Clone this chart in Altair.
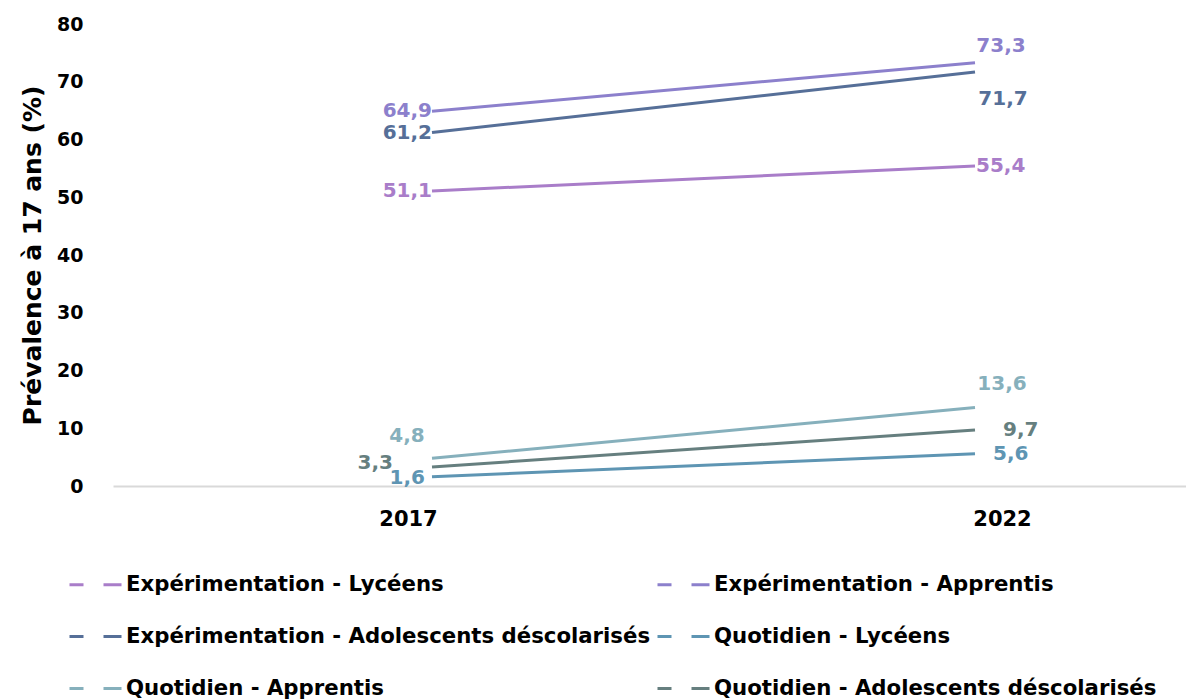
import altair as alt
import pandas as pd

years = [2017, 2022]
series = [
    "Expérimentation - Lycéens",
    "Expérimentation - Apprentis",
    "Expérimentation - Adolescents déscolarisés",
    "Quotidien - Lycéens",
    "Quotidien - Apprentis",
    "Quotidien - Adolescents déscolarisés",
]
values_2017 = [51.1, 64.9, 61.2, 1.6, 4.8, 3.3]
values_2022 = [55.4, 73.3, 71.7, 5.6, 13.6, 9.7]
colors = ["#A97DC9", "#8C80CC", "#566F98", "#5E95B3", "#86B0BC", "#667F7F"]

rows = []
for s, a, b in zip(series, values_2017, values_2022):
    rows.append({"serie": s, "annee": years[0], "valeur": a, "label": f"{a:.1f}".replace(".", ",")})
    rows.append({"serie": s, "annee": years[1], "valeur": b, "label": f"{b:.1f}".replace(".", ",")})
df = pd.DataFrame(rows)

FONT = "DejaVu Sans"
XDOM = [2014.0626, 2023.9429]

x_enc = alt.X(
    "annee:Q",
    scale=alt.Scale(domain=XDOM, nice=False, zero=False),
    axis=alt.Axis(
        values=years, format="d", title=None, grid=False, ticks=False,
        domainColor="#D9D9D9", domainWidth=2,
        labelFont=FONT, labelFontSize=21, labelFontWeight="bold", labelColor="#000000",
        labelPadding=22,
        labelOffset={"condition": {"test": "datum.value == 2017", "value": -24}, "value": 27},
    ),
)
y_enc = alt.Y(
    "valeur:Q",
    scale=alt.Scale(domain=[0, 80], nice=False),
    axis=alt.Axis(
        values=list(range(0, 81, 10)), title="Prévalence  à 17 ans (%)", grid=False, ticks=False,
        domain=False, labelFont=FONT, labelFontSize=19, labelFontWeight="bold", labelColor="#000000",
        labelPadding=30, titleFont=FONT, titleFontSize=25, titleFontWeight="bold", titleColor="#000000",
        titlePadding=11,
    ),
)
color_scale = alt.Scale(domain=series, range=colors)

lines = alt.Chart(df).mark_line(strokeWidth=3).encode(
    x=x_enc, y=y_enc,
    color=alt.Color(
        "serie:N", scale=color_scale, sort=series,
        legend=alt.Legend(
            title=None, orient="none", legendX=-45, legendY=533, columns=2, direction="horizontal",
            symbolType="stroke", symbolSize=2704, symbolStrokeWidth=3, symbolDash=[14, 20, 18, 100],
            labelFont=FONT, labelFontSize=21.25, labelFontWeight="bold", labelColor="#000000",
            labelOffset=3, rowPadding=14, columnPadding=0, labelLimit=700,
        ),
    ),
    detail="serie:N",
)

# label placement (style): (serie index, year) -> (align, dx, dy)
placement = {
    (0, 2017): ("right", 0, 0), (0, 2022): ("left", 1, 0),
    (1, 2017): ("right", 0, 0), (1, 2022): ("center", 26, -17),
    (2, 2017): ("right", 0, 0), (2, 2022): ("center", 28, 27),
    (3, 2017): ("right", -7, 1), (3, 2022): ("left", 18, 0),
    (4, 2017): ("center", -25, -22), (4, 2022): ("center", 27, -23),
    (5, 2017): ("right", -39, -4), (5, 2022): ("left", 28, 0),
}

layers = [lines]
for (i, yr), (al, dx, dy) in placement.items():
    t = alt.Chart(df).transform_filter(
        (alt.datum.serie == series[i]) & (alt.datum.annee == yr)
    ).mark_text(
        align=al, baseline="middle", dx=dx, dy=dy, font=FONT, fontSize=20, fontWeight="bold"
    ).encode(
        x=alt.X("annee:Q", scale=alt.Scale(domain=XDOM, nice=False, zero=False)),
        y=alt.Y("valeur:Q", scale=alt.Scale(domain=[0, 80], nice=False)),
        text="label:N",
        color=alt.Color("serie:N", scale=color_scale, legend=None),
    )
    layers.append(t)

chart = alt.layer(*layers).properties(
    width=1073, height=462,
    autosize=alt.AutoSizeParams(type="none"),
    padding={"left": 105, "top": 16, "right": 0, "bottom": 214},
).configure(background="white", view=alt.ViewConfig(stroke=None))

chart.save("out.html", embed_options={"renderer": "svg", "actions": False})
